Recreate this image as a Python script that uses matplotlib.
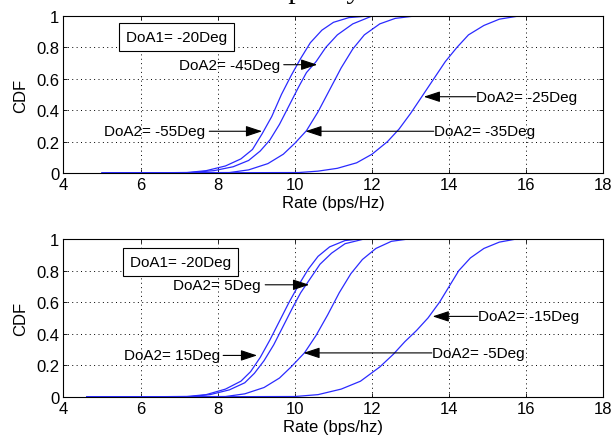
import matplotlib
matplotlib.use("Agg")
import matplotlib.pyplot as plt

plt.rcParams['font.family'] = ['Liberation Sans', 'DejaVu Sans']

title_text = "Capacity"
xlabel_top = "Rate (bps/Hz)"
xlabel_bottom = "Rate (bps/hz)"
ylabel = "CDF"
xticks = [4, 6, 8, 10, 12, 14, 16, 18]
yticks = [0, 0.2, 0.4, 0.6, 0.8, 1]
ytick_labels = ["0", "0.2", "0.4", "0.6", "0.8", "1"]

# ---- top panel (DoA1 = -20Deg) ----
top_box = "DoA1= -20Deg"
rate_m55 = [5.0, 7.2, 7.7, 8.2, 8.6, 8.9, 9.15, 9.4, 9.65, 9.9, 10.15, 10.4, 10.7, 11.0, 11.4, 11.9]
cdf_m55 = [0, 0.003, 0.015, 0.045, 0.09, 0.15, 0.25, 0.36, 0.5, 0.62, 0.73, 0.83, 0.91, 0.96, 0.99, 1.0]
rate_m45 = [5.0, 7.3, 7.9, 8.4, 8.8, 9.1, 9.35, 9.6, 9.85, 10.1, 10.3, 10.55, 10.8, 11.1, 11.5, 12.0]
cdf_m45 = [0, 0.003, 0.015, 0.04, 0.08, 0.14, 0.21, 0.31, 0.43, 0.55, 0.64, 0.71, 0.8, 0.88, 0.95, 1.0]
rate_m35 = [5.0, 8.3, 8.8, 9.3, 9.7, 10.0, 10.3, 10.6, 10.9, 11.2, 11.5, 11.8, 12.2, 12.6, 13.1]
cdf_m35 = [0, 0.003, 0.02, 0.06, 0.12, 0.19, 0.27, 0.39, 0.53, 0.67, 0.79, 0.88, 0.95, 0.985, 1.0]
rate_m25 = [5.0, 10.1, 10.6, 11.1, 11.6, 12.0, 12.4, 12.7, 13.0, 13.3, 13.6, 13.9, 14.2, 14.5, 14.9, 15.3, 15.8]
cdf_m25 = [0, 0.003, 0.012, 0.03, 0.065, 0.12, 0.2, 0.28, 0.38, 0.49, 0.6, 0.71, 0.8, 0.88, 0.94, 0.98, 1.0]

top_labels = ["DoA2= -45Deg", "DoA2= -55Deg", "DoA2= -35Deg", "DoA2= -25Deg"]
top_tips = [(10.58, 0.69), (9.15, 0.266), (10.27, 0.266), (13.34, 0.486)]
top_text = [(7.0, 0.69), (5.04, 0.266), (13.6, 0.266), (14.69, 0.486)]
top_tails = [9.71, 7.78, 13.6, 14.69]

# ---- bottom panel ----
bot_box = "DoA1= -20Deg"
rate_15 = [4.6, 7.2, 7.7, 8.2, 8.6, 8.85, 9.1, 9.35, 9.6, 9.85, 10.1, 10.35, 10.6, 10.9, 11.3, 11.7]
cdf_15 = [0, 0.003, 0.015, 0.05, 0.1, 0.16, 0.25, 0.36, 0.48, 0.6, 0.71, 0.81, 0.89, 0.95, 0.99, 1.0]
rate_5 = [4.6, 7.3, 7.8, 8.3, 8.7, 8.95, 9.2, 9.45, 9.7, 9.95, 10.15, 10.4, 10.65, 10.95, 11.3, 11.8]
cdf_5 = [0, 0.003, 0.015, 0.045, 0.09, 0.15, 0.23, 0.33, 0.45, 0.57, 0.66, 0.75, 0.84, 0.91, 0.97, 1.0]
rate_m5 = [4.6, 8.2, 8.7, 9.2, 9.6, 9.9, 10.25, 10.55, 10.85, 11.15, 11.45, 11.75, 12.1, 12.5, 12.95]
cdf_m5 = [0, 0.003, 0.02, 0.06, 0.12, 0.19, 0.28, 0.39, 0.52, 0.66, 0.78, 0.87, 0.94, 0.985, 1.0]
rate_m15 = [4.6, 10.0, 10.6, 11.2, 11.7, 12.2, 12.55, 12.85, 13.15, 13.45, 13.75, 14.0, 14.25, 14.55, 14.9, 15.3, 15.75]
cdf_m15 = [0, 0.003, 0.015, 0.05, 0.1, 0.19, 0.27, 0.35, 0.42, 0.5, 0.6, 0.7, 0.8, 0.88, 0.94, 0.98, 1.0]

bot_labels = ["DoA2= 5Deg", "DoA2= 15Deg", "DoA2= -5Deg", "DoA2= -15Deg"]
bot_tips = [(10.37, 0.71), (9.02, 0.263), (10.22, 0.279), (13.57, 0.51)]
bot_text = [(6.85, 0.71), (5.58, 0.263), (13.55, 0.279), (14.74, 0.51)]
bot_tails = [9.23, 8.14, 13.55, 14.74]

LINE = '#2a2aff'

fig = plt.figure(figsize=(6.11, 4.39), dpi=100)
fig.patch.set_facecolor('white')

fig.text(0.505, 1.0035, title_text, ha='center', va='baseline',
         family=['Liberation Serif', 'DejaVu Serif'], fontsize=21.6)

def style(ax, xlabel):
    ax.set_xlim(4, 18)
    ax.set_ylim(0, 1)
    ax.set_xticks(xticks)
    ax.set_yticks(yticks)
    ax.set_yticklabels(ytick_labels)
    ax.tick_params(direction='in', length=3, width=0.6, labelsize=12,
                   top=True, right=True, pad=3, colors='black')
    ax.grid(True, color='black', linestyle=(0, (1, 3.5)), linewidth=0.7)
    for s in ax.spines.values():
        s.set_linewidth(0.8)
        s.set_color('black')
    ax.set_xlabel(xlabel, fontsize=12, labelpad=2)
    ax.set_ylabel(ylabel, fontsize=12, labelpad=6)

def annotate(ax, labels, tips, texts, tails):
    for lab, tip, tx, tail in zip(labels, tips, texts, tails):
        ax.text(tx[0], tx[1], lab, ha='left', va='center', fontsize=11)
        ax.annotate('', xy=tip, xytext=(tail, tip[1]),
                    arrowprops=dict(arrowstyle='-|>,head_length=1.0,head_width=0.33',
                                    color='black', lw=0.8, shrinkA=0, shrinkB=0))

ax1 = fig.add_axes([0.1039, 0.6036, 0.8838, 0.3576])
for r, c in [(rate_m55, cdf_m55), (rate_m45, cdf_m45), (rate_m35, cdf_m35), (rate_m25, cdf_m25)]:
    ax1.plot(r, c, color=LINE, lw=0.9)
style(ax1, xlabel_top)
ax1.text(5.62, 0.868, top_box, ha='left', va='center', fontsize=11,
         bbox=dict(boxstyle='square,pad=0.45', fc='white', ec='black', lw=0.8))
annotate(ax1, top_labels, top_tips, top_text, top_tails)

ax2 = fig.add_axes([0.1039, 0.0934, 0.8838, 0.36])
for r, c in [(rate_15, cdf_15), (rate_5, cdf_5), (rate_m5, cdf_m5), (rate_m15, cdf_m15)]:
    ax2.plot(r, c, color=LINE, lw=0.9)
style(ax2, xlabel_bottom)
ax2.text(5.72, 0.855, bot_box, ha='left', va='center', fontsize=11,
         bbox=dict(boxstyle='square,pad=0.45', fc='white', ec='black', lw=0.8))
annotate(ax2, bot_labels, bot_tips, bot_text, bot_tails)

fig.savefig('out.png', dpi=100, facecolor='white')
